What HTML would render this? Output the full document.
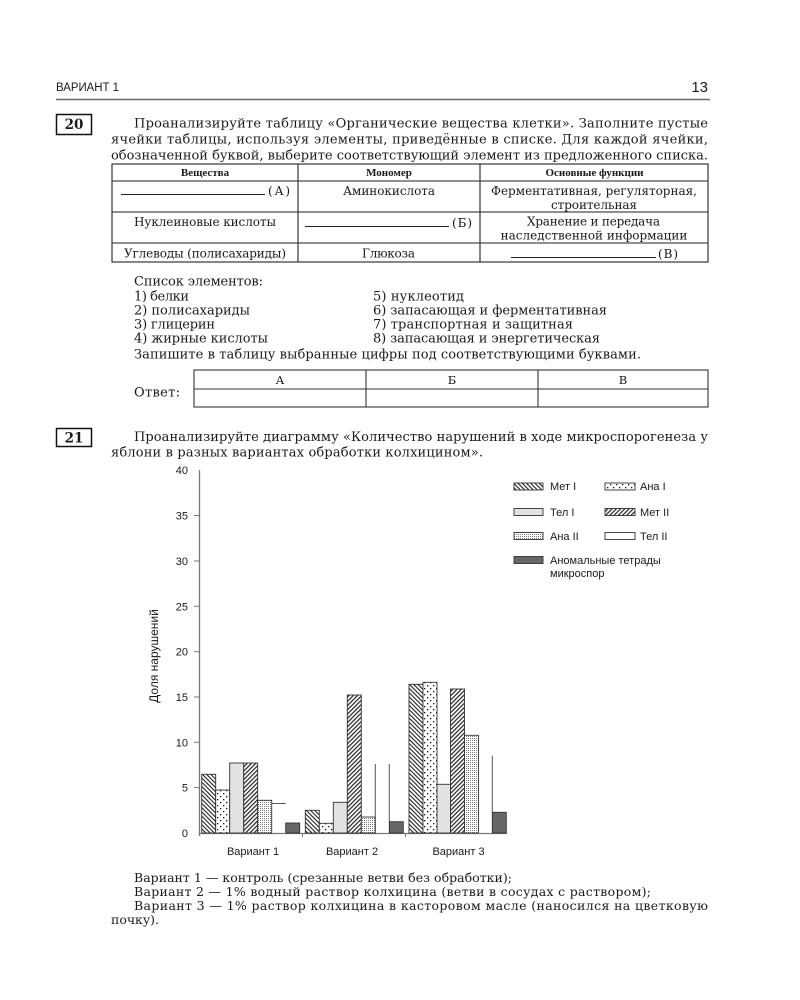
<!DOCTYPE html>
<html><head><meta charset="utf-8"><style>
html,body{margin:0;padding:0;background:#fff;}
svg{display:block;}
.s{font-family:"DejaVu Serif","Liberation Serif",serif;fill:#1a1a1a;}
.a{font-family:"Liberation Sans","DejaVu Sans",sans-serif;fill:#1a1a1a;}
</style></head><body>
<svg width="800" height="1000" viewBox="0 0 800 1000" xmlns="http://www.w3.org/2000/svg">
<defs>
<pattern id="metI" width="3" height="3" patternUnits="userSpaceOnUse" patternTransform="rotate(-45)"><rect width="3" height="3" fill="#fff"/><rect width="1.1" height="3" fill="#222"/></pattern>
<pattern id="metII" width="3" height="3" patternUnits="userSpaceOnUse" patternTransform="rotate(45)"><rect width="3" height="3" fill="#fff"/><rect width="1.2" height="3" fill="#222"/></pattern>
<pattern id="anaI" width="6" height="6" patternUnits="userSpaceOnUse"><rect width="6" height="6" fill="#fff"/><rect x="1" y="1" width="1.3" height="1.3" fill="#111"/><rect x="4" y="4" width="1.3" height="1.3" fill="#111"/></pattern>
<pattern id="anaII" width="2" height="2" patternUnits="userSpaceOnUse"><rect width="2" height="2" fill="#fff"/><rect width="1" height="1" fill="#7a7a7a"/></pattern>
</defs>
<rect width="800" height="1000" fill="#fff"/>

<!-- header -->
<text class="a" x="56" y="91" font-size="11.5" textLength="63" lengthAdjust="spacingAndGlyphs">ВАРИАНТ 1</text>
<text class="a" x="708" y="92" font-size="15" text-anchor="end">13</text>
<line x1="56" y1="99.5" x2="710" y2="99.5" stroke="#6a6a6a" stroke-width="1.6"/>

<!-- task 20 -->
<rect x="56.5" y="114.5" width="35" height="20" fill="none" stroke="#111" stroke-width="1.5"/>
<text class="s" x="74" y="129" font-size="13.5" font-weight="bold" text-anchor="middle">20</text>
<text class="s" x="134" y="127.5" font-size="13" textLength="574" lengthAdjust="spacing">Проанализируйте таблицу «Органические вещества клетки». Заполните пустые</text>
<text class="s" x="111" y="143.5" font-size="13" textLength="597" lengthAdjust="spacing">ячейки таблицы, используя элементы, приведённые в списке. Для каждой ячейки,</text>
<text class="s" x="111" y="159.5" font-size="13" textLength="597" lengthAdjust="spacing">обозначенной буквой, выберите соответствующий элемент из предложенного списка.</text>

<!-- table -->
<g stroke="#222" stroke-width="1.1" fill="none">
<rect x="112" y="164" width="596" height="98"/>
<line x1="298" y1="164" x2="298" y2="262"/>
<line x1="480" y1="164" x2="480" y2="262"/>
<line x1="112" y1="181" x2="708" y2="181"/>
<line x1="112" y1="212" x2="708" y2="212"/>
<line x1="112" y1="243" x2="708" y2="243"/>
</g>
<g class="s">
<text x="205" y="176" font-size="11" font-weight="bold" text-anchor="middle" font-family="Liberation Serif">Вещества</text>
<text x="389" y="176" font-size="11" font-weight="bold" text-anchor="middle" font-family="Liberation Serif">Мономер</text>
<text x="594.5" y="176" font-size="11" font-weight="bold" text-anchor="middle" font-family="Liberation Serif">Основные функции</text>
</g>
<g stroke="#222" stroke-width="1">
<line x1="121" y1="194.5" x2="265" y2="194.5"/>
<line x1="305" y1="226.5" x2="449" y2="226.5"/>
<line x1="511" y1="257.5" x2="656" y2="257.5"/>
</g>
<g class="s" font-size="12">
<text x="268" y="195" textLength="22" lengthAdjust="spacing">(А)</text>
<text x="343" y="195" textLength="92" lengthAdjust="spacing">Аминокислота</text>
<text x="491" y="195" textLength="206" lengthAdjust="spacing">Ферментативная, регуляторная,</text>
<text x="551" y="209" textLength="86" lengthAdjust="spacing">строительная</text>
<text x="134" y="226" textLength="142" lengthAdjust="spacing">Нуклеиновые кислоты</text>
<text x="452" y="227" textLength="20" lengthAdjust="spacing">(Б)</text>
<text x="527" y="225.5" textLength="133" lengthAdjust="spacing">Хранение и передача</text>
<text x="594" y="239.5" text-anchor="middle">наследственной информации</text>
<text x="124" y="257.5" textLength="162" lengthAdjust="spacing">Углеводы (полисахариды)</text>
<text x="362" y="257.5" textLength="53" lengthAdjust="spacing">Глюкоза</text>
<text x="658" y="258" textLength="20" lengthAdjust="spacing">(В)</text>
</g>

<!-- list -->
<g class="s" font-size="13">
<text x="134" y="285.5" textLength="129" lengthAdjust="spacing">Список элементов:</text>
<text x="134" y="300.5" textLength="55" lengthAdjust="spacing">1) белки</text>
<text x="134" y="314.5" textLength="116" lengthAdjust="spacing">2) полисахариды</text>
<text x="134" y="328.5" textLength="81" lengthAdjust="spacing">3) глицерин</text>
<text x="134" y="342.5" textLength="134" lengthAdjust="spacing">4) жирные кислоты</text>
<text x="373" y="300.5" textLength="91" lengthAdjust="spacing">5) нуклеотид</text>
<text x="373" y="314.5" textLength="234" lengthAdjust="spacing">6) запасающая и ферментативная</text>
<text x="373" y="328.5" textLength="200" lengthAdjust="spacing">7) транспортная и защитная</text>
<text x="373" y="342.5" textLength="227" lengthAdjust="spacing">8) запасающая и энергетическая</text>
<text x="134" y="358.5" textLength="507" lengthAdjust="spacing">Запишите в таблицу выбранные цифры под соответствующими буквами.</text>
</g>

<!-- answer table -->
<text class="s" x="134" y="396.5" font-size="13" textLength="46" lengthAdjust="spacing">Ответ:</text>
<g stroke="#333" stroke-width="1.1" fill="none">
<rect x="194" y="370" width="514" height="37"/>
<line x1="366" y1="370" x2="366" y2="407"/>
<line x1="538" y1="370" x2="538" y2="407"/>
<line x1="194" y1="389" x2="708" y2="389"/>
</g>
<g class="s" font-size="11.5" text-anchor="middle">
<text x="280" y="384">А</text>
<text x="452" y="384">Б</text>
<text x="623" y="384">В</text>
</g>

<!-- task 21 -->
<rect x="56.5" y="428.5" width="35" height="18" fill="none" stroke="#111" stroke-width="1.5"/>
<text class="s" x="74" y="442.5" font-size="13.5" font-weight="bold" text-anchor="middle">21</text>
<text class="s" x="134" y="441" font-size="13" textLength="574" lengthAdjust="spacing">Проанализируйте диаграмму «Количество нарушений в ходе микроспорогенеза у</text>
<text class="s" x="111" y="456.5" font-size="13" textLength="372" lengthAdjust="spacing">яблони в разных вариантах обработки колхицином».</text>

<!-- chart axes -->
<line x1="199.5" y1="470" x2="199.5" y2="836" stroke="#777" stroke-width="1.3"/>
<line x1="199" y1="833.5" x2="507" y2="833.5" stroke="#777" stroke-width="1.3"/>
<g stroke="#777" stroke-width="1">
<line x1="194" y1="515.5" x2="199" y2="515.5"/>
<line x1="194" y1="561" x2="199" y2="561"/>
<line x1="194" y1="606.3" x2="199" y2="606.3"/>
<line x1="194" y1="651.7" x2="199" y2="651.7"/>
<line x1="194" y1="697" x2="199" y2="697"/>
<line x1="194" y1="742.3" x2="199" y2="742.3"/>
<line x1="194" y1="787.6" x2="199" y2="787.6"/>
<line x1="302.5" y1="833" x2="302.5" y2="837"/>
<line x1="405.5" y1="833" x2="405.5" y2="837"/>
</g>
<g class="a" font-size="11" text-anchor="end">
<text x="188" y="474">40</text>
<text x="188" y="519.5">35</text>
<text x="188" y="565">30</text>
<text x="188" y="610.3">25</text>
<text x="188" y="655.7">20</text>
<text x="188" y="701">15</text>
<text x="188" y="746.3">10</text>
<text x="188" y="791.6">5</text>
<text x="188" y="837">0</text>
</g>
<text class="a" font-size="12" text-anchor="middle" transform="translate(158,656) rotate(-90)">Доля нарушений</text>

<!-- bars -->
<g stroke="#333" stroke-width="0.9">
<rect x="201.7" y="774.3" width="14" height="58.7" fill="url(#metI)"/>
<rect x="215.7" y="790" width="14" height="43" fill="url(#anaI)"/>
<rect x="229.7" y="763" width="14" height="70" fill="#e2e2e2"/>
<rect x="243.7" y="763" width="14" height="70" fill="url(#metII)"/>
<rect x="257.7" y="800.3" width="14" height="32.7" fill="url(#anaII)"/>
<rect x="285.7" y="823" width="14" height="10" fill="#666"/>
<rect x="305.3" y="810.3" width="14" height="22.7" fill="url(#metI)"/>
<rect x="319.3" y="823.3" width="14" height="9.7" fill="url(#anaI)"/>
<rect x="333.3" y="802.3" width="14" height="30.7" fill="#e2e2e2"/>
<rect x="347.3" y="695" width="14" height="138" fill="url(#metII)"/>
<rect x="361.3" y="817" width="14" height="16" fill="url(#anaII)"/>
<rect x="389.3" y="821.7" width="14" height="11.3" fill="#666"/>
<rect x="409" y="684.3" width="14" height="148.7" fill="url(#metI)"/>
<rect x="423" y="682.3" width="14" height="150.7" fill="url(#anaI)"/>
<rect x="437" y="784.3" width="13.5" height="48.7" fill="#e2e2e2"/>
<rect x="450.5" y="689" width="14" height="144" fill="url(#metII)"/>
<rect x="464.5" y="735.3" width="14" height="97.7" fill="url(#anaII)"/>
<rect x="492.3" y="812.3" width="14" height="20.7" fill="#666"/>
</g>
<g stroke="#555" stroke-width="1">
<line x1="271.7" y1="803.5" x2="285.7" y2="803.5"/>
<line x1="375.3" y1="764" x2="375.3" y2="833"/>
<line x1="389.3" y1="764" x2="389.3" y2="822"/>
<line x1="492.3" y1="755.7" x2="492.3" y2="812"/>
</g>

<!-- x labels -->
<g class="a" font-size="11" text-anchor="middle">
<text x="253" y="855">Вариант 1</text>
<text x="352" y="855">Вариант 2</text>
<text x="458.5" y="855">Вариант 3</text>
</g>

<!-- legend -->
<g stroke="#333" stroke-width="0.9">
<rect x="514" y="483" width="29" height="7" fill="url(#metI)"/>
<rect x="605" y="483" width="30" height="7" fill="url(#anaI)"/>
<rect x="514" y="508.5" width="29" height="7" fill="#e2e2e2"/>
<rect x="605" y="508.5" width="30" height="7" fill="url(#metII)"/>
<rect x="514" y="532.5" width="29" height="7" fill="url(#anaII)"/>
<rect x="605" y="532.5" width="30" height="7" fill="#fff"/>
<rect x="514" y="556.5" width="29" height="7" fill="#666"/>
</g>
<g class="a" font-size="11">
<text x="550" y="490">Мет I</text>
<text x="640" y="490">Ана I</text>
<text x="550" y="516">Тел I</text>
<text x="640" y="516">Мет II</text>
<text x="550" y="540">Ана II</text>
<text x="640" y="540">Тел II</text>
<text x="550" y="564">Аномальные тетрады</text>
<text x="550" y="577">микроспор</text>
</g>

<!-- footnotes -->
<g class="s" font-size="12.5">
<text x="134" y="882" textLength="378" lengthAdjust="spacing">Вариант 1 — контроль (срезанные ветви без обработки);</text>
<text x="134" y="896" textLength="517" lengthAdjust="spacing">Вариант 2 — 1% водный раствор колхицина (ветви в сосудах с раствором);</text>
<text x="134" y="910" textLength="574" lengthAdjust="spacing">Вариант 3 — 1% раствор колхицина в касторовом масле (наносился на цветковую</text>
<text x="111" y="924" textLength="48" lengthAdjust="spacing">почку).</text>
</g>
</svg>
</body></html>
